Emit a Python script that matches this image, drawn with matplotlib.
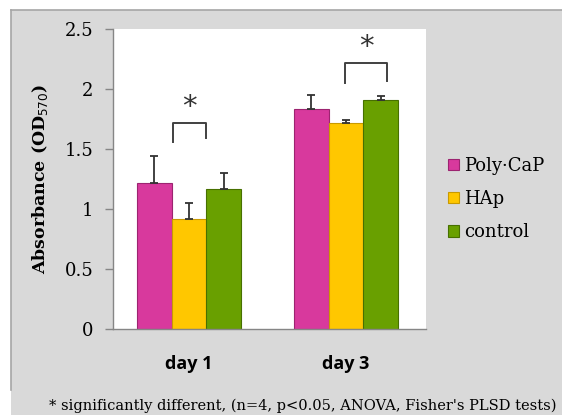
import numpy as np
import matplotlib.pyplot as plt
from matplotlib.patches import Rectangle
from matplotlib.lines import Line2D

days = ["day 1", "day 3"]
groups = ["Poly-CaP", "HAp", "control"]
legend_labels = ["Poly\u00b7CaP", "HAp", "control"]
means = {
    "Poly-CaP": [1.22, 1.83],
    "HAp": [0.92, 1.72],
    "control": [1.17, 1.91],
}
errors = {
    "Poly-CaP": [0.22, 0.12],
    "HAp": [0.13, 0.025],
    "control": [0.13, 0.035],
}
colors = {"Poly-CaP": "#d8399d", "HAp": "#ffc700", "control": "#69a000"}
edges = {"Poly-CaP": "#9c2470", "HAp": "#c99a00", "control": "#477000"}
yticks = [0, 0.5, 1, 1.5, 2, 2.5]
ytick_labels = ["0", "0.5", "1", "1.5", "2", "2.5"]
# significance brackets: (x0, x1, top, left leg end, right leg end)
brackets = [(-0.10, 0.108, 1.72, 1.56, 1.59), (0.994, 1.263, 2.22, 2.05, 2.07)]

serif = "DejaVu Serif"
bg = "#d9d9d9"
fig = plt.figure(figsize=(5.62, 4.15), dpi=100)
fig.patch.set_facecolor("white")
# gray panel with a thin frame on top and left
fig.patches.append(Rectangle((11 / 562, 0), 1, 1 - 10 / 415, transform=fig.transFigure,
                             facecolor=bg, edgecolor="none", zorder=-10))
fig.lines.append(Line2D([11 / 562, 1], [1 - 10 / 415, 1 - 10 / 415], transform=fig.transFigure,
                        color="#a6a6a6", lw=1.2, zorder=-5))
fig.lines.append(Line2D([11 / 562, 11 / 562], [1 - 10 / 415, 1 - 390 / 415], transform=fig.transFigure,
                        color="#a6a6a6", lw=1.2, zorder=-5))

ax = fig.add_axes([113 / 562, 1 - 329 / 415, 313 / 562, 300 / 415])
ax.set_facecolor("white")

x = np.arange(len(days))
w = 0.222
for i, g in enumerate(groups):
    pos = x + (i - 1) * w
    ax.bar(pos, means[g], w, color=colors[g], edgecolor=edges[g], linewidth=0.8,
           label=legend_labels[i], zorder=2)
    ax.errorbar(pos, means[g], yerr=[np.zeros(len(days)), errors[g]], fmt="none",
                ecolor="#333333", elinewidth=1.3, capsize=3, capthick=1.3, zorder=3)

for x0, x1, top, l_end, r_end in brackets:
    ax.plot([x0, x0, x1, x1], [l_end, top, top, r_end], color="#404040", lw=1.4, zorder=3)
    ax.text((x0 + x1) / 2, top + 0.13, "*", ha="center", va="center", fontsize=21,
            color="#333333", family="DejaVu Sans")

ax.set_xlim(-0.484, 1.51)
ax.set_ylim(0, 2.5)
ax.set_yticks(yticks)
ax.set_yticklabels(ytick_labels, family=serif, fontsize=13)
ax.set_xticks(x)
ax.set_xticklabels(days, family="Open Sans", fontweight="bold", fontsize=13)
ax.tick_params(axis="x", length=0, pad=19)
ax.tick_params(axis="y", direction="out", length=6, width=1, color="#868686", pad=8)
for s in ["top", "right"]:
    ax.spines[s].set_visible(False)
for s in ["left", "bottom"]:
    ax.spines[s].set_color("#868686")
    ax.spines[s].set_linewidth(1.0)

ax.set_ylabel("Absorbance (OD$_{570}$)", family=serif, fontweight="bold",
              fontsize=12.5, labelpad=11)

leg = ax.legend(loc="center left", bbox_to_anchor=(1.07, 0.433), frameon=False,
                prop={"family": serif, "size": 13}, borderpad=0, borderaxespad=0,
                handlelength=0.6, handleheight=0.6, handletextpad=0.3, labelspacing=0.85)

fig.text(0.99, 1 - 406 / 415,
         "* significantly different, (n=4, p<0.05, ANOVA, Fisher's PLSD tests)",
         ha="right", va="center", family=serif, fontsize=10.5)

fig.savefig("out.png", dpi=100, facecolor=fig.get_facecolor())
